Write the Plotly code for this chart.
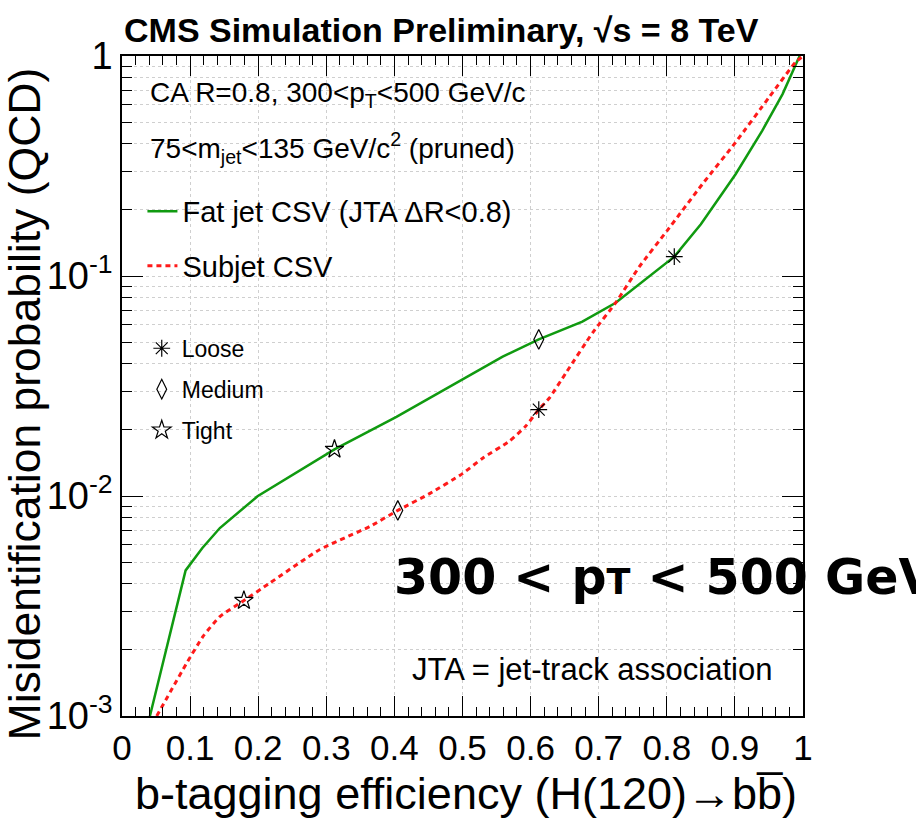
import plotly.graph_objects as go

# ---- data ----
fat_x = [0.041, 0.0934, 0.118, 0.1437, 0.199, 0.312, 0.403, 0.500, 0.559, 0.612, 0.676, 0.725, 0.769, 0.811, 0.850, 0.901, 0.940, 0.970, 0.995]
fat_y = [1.0e-3, 4.59e-3, 5.8e-3, 7.15e-3, 9.97e-3, 0.0163, 0.0229, 0.0339, 0.0430, 0.0515, 0.0620, 0.0756, 0.0966, 0.1225, 0.172, 0.290, 0.457, 0.671, 1.0]

sub_x = [0.051, 0.095, 0.119, 0.1437, 0.179, 0.217, 0.290, 0.364, 0.405, 0.4516, 0.500, 0.530, 0.569, 0.593, 0.612, 0.6276, 0.652, 0.691, 0.725, 0.7595, 0.800, 0.852, 0.901, 0.950, 0.989, 1.0]
sub_y = [1.0e-3, 1.74e-3, 2.30e-3, 2.83e-3, 3.35e-3, 4.02e-3, 5.70e-3, 7.27e-3, 8.6e-3, 0.01025, 0.01264, 0.0149, 0.01775, 0.0208, 0.0247, 0.0279, 0.0363, 0.0552, 0.0756, 0.110, 0.160, 0.261, 0.405, 0.648, 0.936, 1.0]

# working points (fat jet, subjet)
wp_names = ["Loose", "Medium", "Tight"]
wp_x = {"Loose": [0.811, 0.612], "Medium": [0.612, 0.405], "Tight": [0.312, 0.179]}
wp_y = {"Loose": [0.1225, 0.0247], "Medium": [0.0515, 0.0086], "Tight": [0.0163, 0.00335]}
wp_symbols = {"Loose": "asterisk-open", "Medium": "diamond-tall-open", "Tight": "star-open"}

y_tickvals = [0.001, 0.01, 0.1, 1]
y_ticktext = ["10<sup>-3</sup>", "10<sup>-2</sup>", "10<sup>-1</sup>", "1"]
x_tickvals = [0, 0.1, 0.2, 0.3, 0.4, 0.5, 0.6, 0.7, 0.8, 0.9, 1]
x_ticktext = ["0", "0.1", "0.2", "0.3", "0.4", "0.5", "0.6", "0.7", "0.8", "0.9", "1"]

FONT = "Liberation Sans, Arial, Helvetica, sans-serif"

fig = go.Figure()
fig.add_trace(go.Scatter(x=fat_x, y=fat_y, mode="lines", name="Fat jet CSV (JTA ΔR<0.8)",
                         line=dict(color="#109a10", width=2.5), legend="legend", legendgroup="a"))
fig.add_trace(go.Scatter(x=sub_x, y=sub_y, mode="lines", name="Subjet CSV",
                         line=dict(color="#ff1a1a", width=3, dash="5px,4px", shape="spline", smoothing=0.5),
                         legend="legend", legendgroup="b"))
for i, n in enumerate(wp_names):
    fig.add_trace(go.Scatter(x=wp_x[n], y=wp_y[n], mode="markers", name=n,
                             marker=dict(symbol=wp_symbols[n], size=14, color="black",
                                         line=dict(color="black", width=1.2)),
                             legend="legend2", legendgroup="m%d" % i))

grid_col = "#cfcfcf"
fig.update_xaxes(range=[0, 1], tickmode="array", tickvals=x_tickvals, ticktext=x_ticktext,
                 ticks="inside", ticklen=20, tickwidth=1, tickcolor="black",
                 showline=True, linecolor="black", linewidth=1.5, mirror="ticks",
                 showgrid=True, gridcolor=grid_col, griddash="dot", gridwidth=1, zeroline=False,
                 minor=dict(dtick=0.02, ticks="inside", ticklen=9, tickcolor="black", showgrid=False),
                 tickfont=dict(family=FONT, size=35, color="black"))
fig.update_yaxes(type="log", range=[-3, 0], tickmode="array", tickvals=y_tickvals, ticktext=y_ticktext,
                 ticks="inside", ticklen=21, tickwidth=1, tickcolor="black",
                 showline=True, linecolor="black", linewidth=1.5, mirror="ticks",
                 showgrid=True, gridcolor=grid_col, griddash="dot", gridwidth=1, zeroline=False,
                 minor=dict(dtick="D1", ticks="inside", ticklen=10, tickcolor="black",
                            showgrid=True, gridcolor=grid_col, griddash="dot", gridwidth=1),
                 tickfont=dict(family=FONT, size=38, color="black"))

anns = [
    dict(text="<b>CMS Simulation Preliminary, √s = 8 TeV</b>", x=0, y=1.039, xanchor="left", yanchor="middle",
         font=dict(size=34)),
    dict(text="Misidentification probability (QCD)", x=-0.143, y=0.473, textangle=-90,
         xanchor="center", yanchor="middle", font=dict(size=44.5)),
    dict(text="b-tagging efficiency (H(120)→bb\u0305)", x=0.505, y=-0.117, xanchor="center", yanchor="middle",
         font=dict(size=45)),
    dict(text="CA R=0.8, 300<p<sub>T</sub><500 GeV/c", x=0.038, y=0.941, xanchor="left", yanchor="middle",
         font=dict(size=28)),
    dict(text="75<m<sub>jet</sub><135 GeV/c<sup>2</sup> (pruned)", x=0.038, y=0.861, xanchor="left",
         yanchor="middle", font=dict(size=28)),
    dict(text="JTA = jet-track association", x=0.423, y=0.07, xanchor="left", yanchor="middle",
         font=dict(size=31)),
    dict(text="<b>300 < p<span style='font-size:35px'>T</span> < 500 GeV</b>", x=0.396, y=0.21,
         xanchor="left", yanchor="middle",
         font=dict(size=49, family="DejaVu Sans, Verdana, sans-serif")),
]
for a in anns:
    a.setdefault("showarrow", False)
    a.setdefault("xref", "paper")
    a.setdefault("yref", "paper")
    f = a.get("font", {})
    f.setdefault("family", FONT)
    f.setdefault("color", "black")
    a["font"] = f
fig.update_layout(annotations=anns)

fig.update_layout(
    width=916, height=820,
    margin=dict(l=122, r=113, t=56, b=104),
    plot_bgcolor="white", paper_bgcolor="white",
    font=dict(family=FONT, color="black"),
    legend=dict(x=0.03, y=0.723, xanchor="left", yanchor="middle", bgcolor="rgba(0,0,0,0)",
                font=dict(size=29, family=FONT), tracegroupgap=14, itemwidth=30),
    legend2=dict(x=0.029, y=0.495, xanchor="left", yanchor="middle", bgcolor="rgba(0,0,0,0)",
                 font=dict(size=23, family=FONT), tracegroupgap=8, itemwidth=30),
)

fig.write_html("out.html")
